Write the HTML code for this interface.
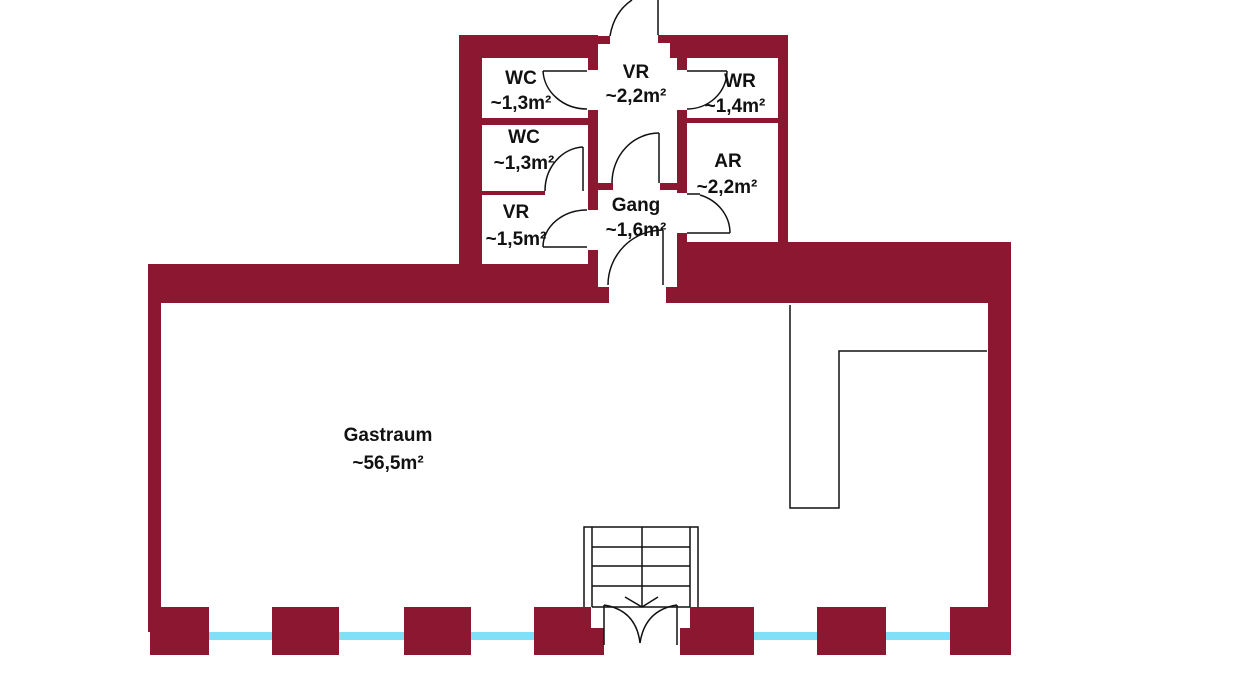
<!DOCTYPE html>
<html><head><meta charset="utf-8"><style>
html,body{margin:0;padding:0;background:#fff;}
svg{display:block}
text{font-family:"Liberation Sans",sans-serif;font-weight:bold;font-size:19px;fill:#111;text-anchor:middle}
</style></head><body>
<svg width="1236" height="700" viewBox="0 0 1236 700" xmlns="http://www.w3.org/2000/svg">
<g fill="#8c1730">
<rect x="459" y="35" width="23" height="229"/>
<rect x="459" y="35" width="139" height="23"/>
<rect x="598" y="36" width="12" height="8"/>
<rect x="588" y="58" width="10" height="12"/>
<rect x="658" y="35" width="130" height="8"/>
<rect x="670" y="43" width="118" height="15"/>
<rect x="677" y="58" width="10" height="12"/>
<rect x="778" y="35" width="10" height="210"/>
<rect x="482" y="118" width="106" height="7"/>
<rect x="687" y="118" width="91" height="5"/>
<rect x="482" y="191" width="63" height="4"/>
<rect x="588" y="110" width="10" height="100"/>
<rect x="597" y="183" width="16" height="7"/>
<rect x="677" y="110" width="10" height="83"/>
<rect x="660" y="183" width="17" height="7"/>
<rect x="588" y="250" width="10" height="14"/>
<rect x="677" y="233" width="10" height="12"/>
<rect x="148" y="264" width="450" height="39"/>
<rect x="598" y="287" width="11" height="16"/>
<rect x="677" y="242" width="334" height="61"/>
<rect x="666" y="287" width="11" height="16"/>
<rect x="148" y="264" width="13" height="368"/>
<rect x="988" y="242" width="23" height="390"/>
<rect x="150" y="607" width="59" height="48"/>
<rect x="272" y="607" width="67" height="48"/>
<rect x="404" y="607" width="67" height="48"/>
<rect x="534" y="607" width="57" height="48"/>
<rect x="590" y="628" width="14" height="27"/>
<rect x="690" y="607" width="64" height="48"/>
<rect x="680" y="628" width="12" height="27"/>
<rect x="817" y="607" width="69" height="48"/>
<rect x="950" y="607" width="61" height="48"/>
</g>
<g fill="#7fe0f8">
<rect x="209" y="632" width="63" height="8"/>
<rect x="339" y="632" width="65" height="8"/>
<rect x="471" y="632" width="63" height="8"/>
<rect x="754" y="632" width="63" height="8"/>
<rect x="886" y="632" width="64" height="8"/>
</g>
<g fill="none" stroke="#111" stroke-width="1.5">
<line x1="658" y1="0" x2="658" y2="35"/>
<path d="M610 36 Q614 12 632 0"/>
<line x1="543" y1="71" x2="587" y2="71"/>
<path d="M543 71 A44 40 0 0 0 587 109"/>
<line x1="687" y1="71" x2="727" y2="71"/>
<path d="M727 71 A40 38 0 0 1 687 109"/>
<line x1="583" y1="147" x2="583" y2="191"/>
<path d="M583 147 A40 44 0 0 0 545 191"/>
<line x1="659" y1="133" x2="659" y2="183"/>
<path d="M659 133 A47 50 0 0 0 612 183"/>
<line x1="687" y1="194" x2="700" y2="194"/>
<path d="M700 195 A43 40 0 0 1 730 233"/>
<line x1="687" y1="233" x2="730" y2="233"/>
<line x1="543" y1="247" x2="587" y2="247"/>
<path d="M587 210 A44 37 0 0 0 543 247"/>
<line x1="663" y1="230" x2="663" y2="285"/>
<path d="M663 230 A55 55 0 0 0 608 285"/>
<path d="M790 305 V508 H839 V351 H987"/>
<path d="M584 607 V527 H698 V607"/>
<path d="M592 607 V527 M690 607 V527 M642 527 V607"/>
<path d="M592 547 H690 M592 566 H690 M592 586 H690 M592 607 H690"/>
<path d="M625 597 L642 607 L658 597"/>
<line x1="604" y1="605" x2="604" y2="645"/>
<line x1="677" y1="605" x2="677" y2="645"/>
<path d="M604 605 Q636 610 640 643"/>
<path d="M677 605 Q645 610 640 643"/>
</g>
<text x="521" y="84">WC</text>
<text x="521" y="109">~1,3m²</text>
<text x="524" y="143">WC</text>
<text x="524" y="169">~1,3m²</text>
<text x="516" y="218">VR</text>
<text x="516" y="245">~1,5m²</text>
<text x="636" y="78">VR</text>
<text x="636" y="102">~2,2m²</text>
<text x="740" y="87">WR</text>
<text x="735" y="112">~1,4m²</text>
<text x="728" y="167">AR</text>
<text x="727" y="193">~2,2m²</text>
<text x="636" y="211">Gang</text>
<text x="636" y="236">~1,6m²</text>
<text x="388" y="441">Gastraum</text>
<text x="388" y="469">~56,5m²</text>
</svg>
</body></html>
